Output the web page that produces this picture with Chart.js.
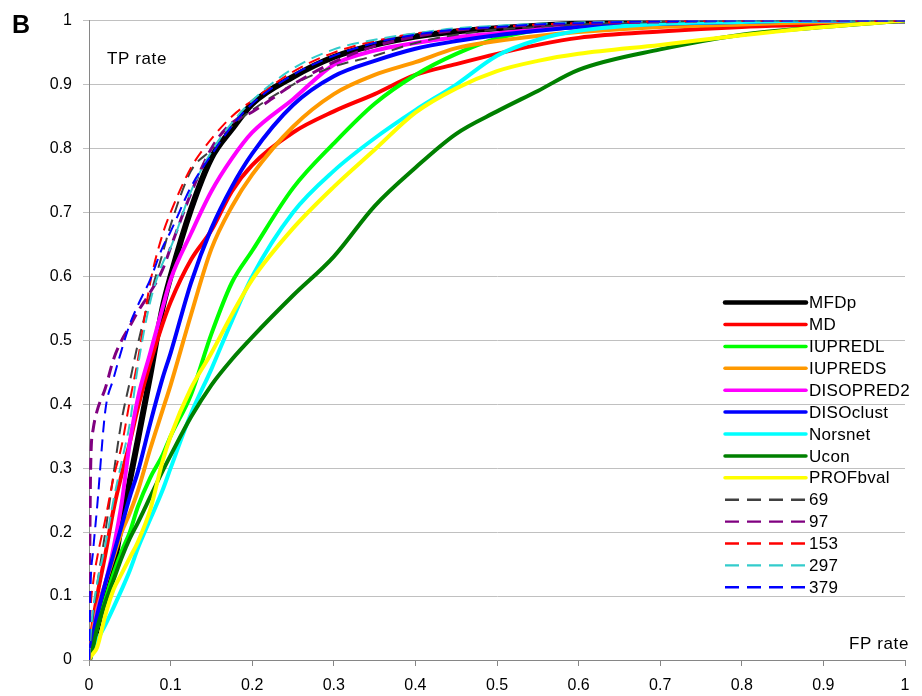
<!DOCTYPE html>
<html>
<head>
<meta charset="utf-8">
<title>ROC curves</title>
<script src="https://cdn.jsdelivr.net/npm/chart.js@4.4.1/dist/chart.umd.min.js"></script>
<style>
  html, body { margin: 0; padding: 0; background: #fff; }
  #roc { display: block; }
</style>
</head>
<body>
<canvas id="roc" width="922" height="696"></canvas>
<script>
// FP rate grid shared by all curves
const fpr = [0, 0.002, 0.005, 0.01, 0.02, 0.03, 0.04, 0.05, 0.06, 0.075, 0.09, 0.1, 0.125, 0.15, 0.175, 0.2, 0.25, 0.3, 0.35, 0.4, 0.45, 0.5, 0.55, 0.6, 0.7, 0.8, 0.9, 1];

// TP rate of each predictor at the FP rates above
const mfdp      = [0, 0.01, 0.025, 0.05, 0.1, 0.145, 0.215, 0.28, 0.345, 0.445, 0.55, 0.6, 0.705, 0.785, 0.83, 0.87, 0.912, 0.943, 0.962, 0.975, 0.983, 0.988, 0.992, 0.995, 0.998, 1, 1, 1];
const md        = [0, 0.03, 0.06, 0.1, 0.165, 0.235, 0.29, 0.34, 0.395, 0.465, 0.525, 0.56, 0.626, 0.672, 0.733, 0.774, 0.825, 0.858, 0.885, 0.915, 0.932, 0.948, 0.962, 0.973, 0.983, 0.99, 0.994, 1];
const iupredl   = [0, 0.01, 0.025, 0.05, 0.095, 0.135, 0.17, 0.2, 0.24, 0.285, 0.32, 0.35, 0.415, 0.51, 0.59, 0.64, 0.738, 0.808, 0.87, 0.915, 0.948, 0.972, 0.985, 0.99, 0.995, 0.998, 1, 1];
const iupreds   = [0, 0.02, 0.05, 0.08, 0.12, 0.16, 0.2, 0.23, 0.265, 0.33, 0.39, 0.43, 0.54, 0.643, 0.709, 0.759, 0.834, 0.885, 0.915, 0.935, 0.957, 0.968, 0.976, 0.982, 0.99, 0.994, 0.998, 1];
const disopred2 = [0, 0.015, 0.04, 0.075, 0.12, 0.175, 0.245, 0.34, 0.41, 0.48, 0.55, 0.595, 0.667, 0.733, 0.784, 0.825, 0.877, 0.931, 0.953, 0.965, 0.974, 0.98, 0.986, 0.99, 0.996, 0.999, 1, 1];
const disoclust = [0, 0.02, 0.04, 0.07, 0.12, 0.165, 0.21, 0.255, 0.295, 0.37, 0.44, 0.48, 0.59, 0.675, 0.74, 0.792, 0.868, 0.913, 0.937, 0.956, 0.968, 0.977, 0.984, 0.99, 0.995, 0.998, 1, 1];
const norsnet   = [0, 0.005, 0.015, 0.03, 0.055, 0.082, 0.11, 0.14, 0.175, 0.22, 0.265, 0.3, 0.385, 0.455, 0.53, 0.6, 0.7, 0.765, 0.816, 0.86, 0.9, 0.945, 0.97, 0.984, 0.995, 0.998, 1, 1];
const ucon      = [0, 0.005, 0.02, 0.05, 0.09, 0.125, 0.16, 0.19, 0.215, 0.255, 0.295, 0.32, 0.38, 0.43, 0.47, 0.505, 0.57, 0.631, 0.71, 0.77, 0.823, 0.858, 0.89, 0.923, 0.955, 0.978, 0.99, 1];
const profbval  = [0, 0.005, 0.01, 0.02, 0.07, 0.11, 0.135, 0.16, 0.185, 0.235, 0.31, 0.35, 0.425, 0.48, 0.54, 0.595, 0.675, 0.74, 0.798, 0.856, 0.894, 0.921, 0.937, 0.948, 0.962, 0.977, 0.99, 1];
const s69       = [0, 0.03, 0.07, 0.118, 0.2, 0.29, 0.375, 0.435, 0.495, 0.57, 0.635, 0.68, 0.765, 0.798, 0.835, 0.86, 0.9, 0.928, 0.945, 0.965, 0.978, 0.986, 0.99, 0.994, 0.998, 1, 1, 1];
const s97       = [0, 0.3, 0.36, 0.39, 0.425, 0.47, 0.5, 0.522, 0.545, 0.575, 0.61, 0.645, 0.73, 0.8, 0.84, 0.857, 0.9, 0.935, 0.96, 0.975, 0.985, 0.99, 0.993, 0.995, 0.998, 1, 1, 1];
const s153      = [0, 0.08, 0.12, 0.16, 0.22, 0.285, 0.335, 0.405, 0.47, 0.59, 0.665, 0.7, 0.77, 0.815, 0.85, 0.875, 0.92, 0.95, 0.968, 0.98, 0.986, 0.99, 0.994, 0.996, 0.999, 1, 1, 1];
const s297      = [0, 0.04, 0.08, 0.12, 0.18, 0.25, 0.31, 0.37, 0.46, 0.56, 0.62, 0.645, 0.733, 0.795, 0.84, 0.875, 0.925, 0.955, 0.97, 0.98, 0.988, 0.992, 0.995, 0.997, 0.999, 1, 1, 1];
const s379      = [0, 0.12, 0.17, 0.24, 0.39, 0.44, 0.485, 0.525, 0.555, 0.595, 0.645, 0.67, 0.74, 0.79, 0.835, 0.87, 0.915, 0.945, 0.965, 0.978, 0.986, 0.99, 0.994, 0.996, 0.999, 1, 1, 1];

const labels = ['MFDp', 'MD', 'IUPREDL', 'IUPREDS', 'DISOPRED2', 'DISOclust', 'Norsnet', 'Ucon', 'PROFbval', '69', '97', '153', '297', '379'];
const tprs = [mfdp, md, iupredl, iupreds, disopred2, disoclust, norsnet, ucon, profbval, s69, s97, s153, s297, s379];

const tickLabels = ['0', '0.1', '0.2', '0.3', '0.4', '0.5', '0.6', '0.7', '0.8', '0.9', '1'];
const xTitle = 'FP rate';
const yTitle = 'TP rate';
const panel = 'B';

// styles
const colors = ['#000000', '#FF0000', '#00FF00', '#FF9900', '#FF00FF', '#0000FF', '#00FFFF', '#008000', '#FFFF00',
                '#404040', '#800080', '#FF0000', '#33CCCC', '#0000FF'];
const widths = [6, 4, 4, 4, 4, 4, 4, 4, 4, 2, 3, 2, 2, 2];
const dashed = [false, false, false, false, false, false, false, false, false, true, true, true, true, true];

const FONT = '"Liberation Sans", Arial, sans-serif';
Chart.defaults.font.family = FONT;
Chart.defaults.color = '#000';

const datasets = labels.map((name, i) => ({
  label: name,
  data: fpr.map((x, j) => ({ x: x, y: tprs[i][j] })),
  borderColor: colors[i],
  backgroundColor: colors[i],
  borderWidth: widths[i],
  borderDash: dashed[i] ? [12, 7] : [],
  pointRadius: 0,
  cubicInterpolationMode: 'monotone',
  fill: false,
  order: labels.length - i   // later series drawn on top, like the original
}));

// axis titles, panel letter and the legend inside the plot
const overlay = {
  id: 'overlay',
  afterDraw(chart) {
    const { ctx, chartArea: a } = chart;
    ctx.save();
    ctx.fillStyle = '#000';
    ctx.textBaseline = 'alphabetic';

    ctx.font = 'bold 25px ' + FONT;
    ctx.textAlign = 'left';
    ctx.fillText(panel, 12, 33);

    ctx.font = '17px ' + FONT;
    ctx.letterSpacing = '0.6px';
    ctx.fillText(yTitle, a.left + 18, a.top + 43);
    ctx.textAlign = 'right';
    ctx.fillText(xTitle, a.right + 4, a.bottom - 11);

    // legend
    const x0 = a.right - 180, x1 = a.right - 99;
    ctx.textAlign = 'left';
    ctx.textBaseline = 'middle';
    ctx.letterSpacing = '0.3px';
    chart.data.datasets.forEach((ds, i) => {
      const y = a.top + 282 + i * 21.9;
      const isDash = ds.borderDash.length > 0;
      ctx.beginPath();
      ctx.strokeStyle = ds.borderColor;
      ctx.lineWidth = isDash ? 2.4 : Math.min(ds.borderWidth, 5) - 0.5;
      ctx.setLineDash(isDash ? [14, 8] : []);
      ctx.lineCap = isDash ? 'butt' : 'round';
      ctx.moveTo(x0, y);
      ctx.lineTo(x1, y);
      ctx.stroke();
      ctx.fillText(ds.label, x1 + 3, y + 1);
    });
    ctx.restore();
  }
};

new Chart(document.getElementById('roc'), {
  type: 'line',
  data: { datasets: datasets },
  options: {
    responsive: false,
    animation: false,
    parsing: false,
    layout: { padding: { top: 19, right: 17, left: 0, bottom: 0 } },
    plugins: {
      legend: { display: false },
      tooltip: { enabled: false }
    },
    scales: {
      x: {
        type: 'linear',
        min: 0,
        max: 1,
        afterFit: (s) => { s.height = 36; },
        ticks: {
          stepSize: 0.1,
          padding: 10,
          maxRotation: 0,
          font: { size: 16 },
          color: '#000',
          callback: (v, i) => tickLabels[i]
        },
        grid: { drawOnChartArea: false, color: '#868686', tickLength: 6 },
        border: { color: '#868686', width: 1 }
      },
      y: {
        type: 'linear',
        min: 0,
        max: 1,
        afterFit: (s) => { s.width = 89; },
        ticks: {
          stepSize: 0.1,
          padding: 11,
          font: { size: 16 },
          color: '#000',
          callback: (v, i) => tickLabels[i]
        },
        grid: { color: '#C0C0C0', lineWidth: 1, tickLength: 6 },
        border: { color: '#868686', width: 1 }
      }
    }
  },
  plugins: [overlay]
});
</script>
</body>
</html>
